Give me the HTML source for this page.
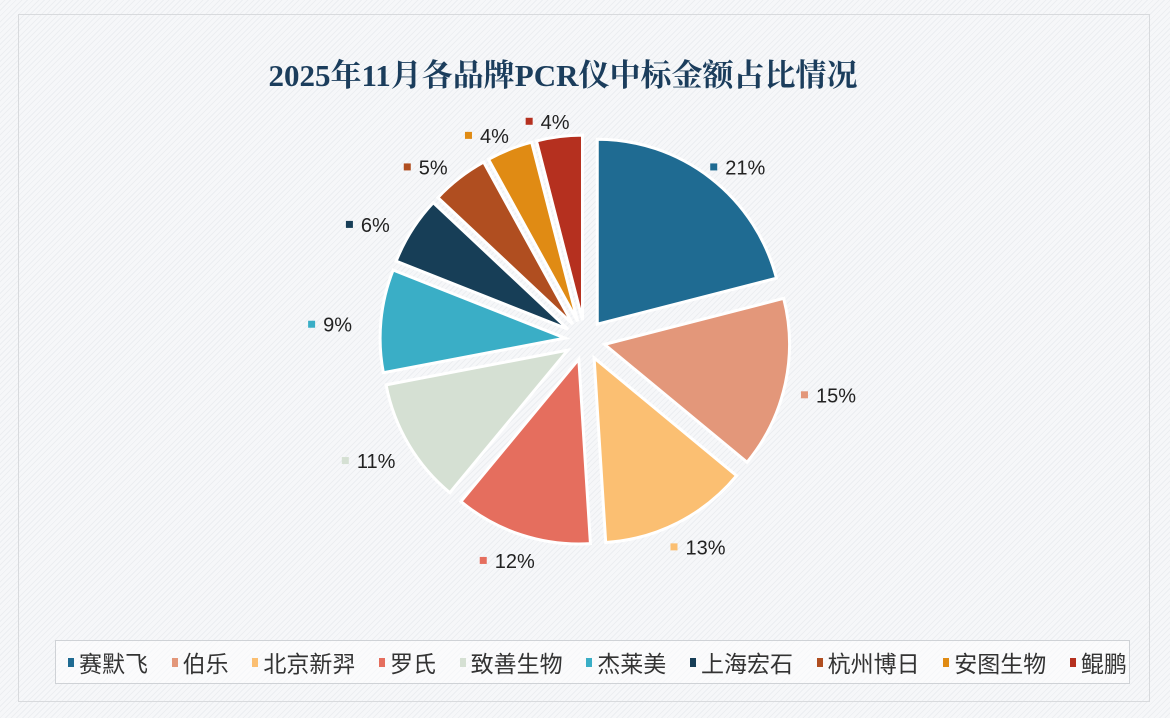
<!DOCTYPE html>
<html><head><meta charset="utf-8"><style>
html,body{margin:0;padding:0}
body{width:1170px;height:718px;position:relative;overflow:hidden;font-family:"Liberation Sans","Noto Sans CJK SC",sans-serif;
background:repeating-linear-gradient(135deg,#f6f7f9 0 3px,#eceef1 3px 4px);}
#frame{position:absolute;left:18px;top:14px;width:1132px;height:688px;border:1px solid #d8dadd;box-sizing:border-box}
#title{position:absolute;left:0;width:1126px;top:50px;text-align:center;font:bold 31px "Liberation Serif","Noto Serif CJK SC",serif;color:#1b3d5c}
#legend{position:absolute;left:55px;top:640px;width:1075px;height:44px;border:1px solid #cfd2d6;background:rgba(255,255,255,.55);box-sizing:border-box;display:flex;align-items:center;justify-content:space-between;padding:0 2px 0 12px;font-size:23px;color:#333}
.li{display:flex;align-items:center}
.sw{width:6px;height:9px;margin-right:5px}
svg{position:absolute;left:0;top:0}
</style></head><body>
<div id="frame"></div>
<div id="title">2025年11月各品牌PCR仪中标金额占比情况</div>
<svg id="chart" width="1170" height="718"></svg>
<div id="legend"></div>
<script>
const categories=["赛默飞","伯乐","北京新羿","罗氏","致善生物","杰莱美","上海宏石","杭州博日","安图生物","鲲鹏"];
const values=[21,15,13,12,11,9,6,5,4,4];
const labels=["21%","15%","13%","12%","11%","9%","6%","5%","4%","4%"];
const colors=["#1f6b92","#e3977a","#fbbf72","#e56e5e","#d5e0d3","#3aaec6","#173e57","#b04e20","#e08b14","#b5301f"];
const NS="http://www.w3.org/2000/svg";
const svg=document.getElementById('chart');
const cx=585,cy=340,R=185,EX=20,LRX=250,LRY=226;
const total=values.reduce((a,b)=>a+b,0);
let acc=0;
function pt(a,r){return [cx+r*Math.sin(a),cy-r*Math.cos(a)];}
values.forEach((v,i)=>{
  const a0=acc/total*2*Math.PI,a1=(acc+v)/total*2*Math.PI,am=(a0+a1)/2;acc+=v;
  const dx=EX*Math.sin(am),dy=-EX*Math.cos(am);
  const p0=pt(a0,R),p1=pt(a1,R);
  const p=document.createElementNS(NS,'path');
  p.setAttribute('d',`M${cx+dx},${cy+dy} L${p0[0]+dx},${p0[1]+dy} A${R},${R} 0 ${a1-a0>Math.PI?1:0} 1 ${p1[0]+dx},${p1[1]+dy} Z`);
  p.setAttribute('fill',colors[i]);p.setAttribute('stroke','#fff');p.setAttribute('stroke-width','3');
  
  
  svg.appendChild(p);
  const lp=[cx+LRX*Math.sin(am),cy-LRY*Math.cos(am)];
  const g=document.createElementNS(NS,'g');
  
  
  const r=document.createElementNS(NS,'rect');
  r.setAttribute('x',lp[0]-28);r.setAttribute('y',lp[1]+2);r.setAttribute('width',7);r.setAttribute('height',7);r.setAttribute('fill',colors[i]);
  g.appendChild(r);
  const t=document.createElementNS(NS,'text');
  t.setAttribute('x',lp[0]-13);t.setAttribute('y',lp[1]+13);t.setAttribute('font-size','20');t.setAttribute('font-family','Liberation Sans, sans-serif');t.setAttribute('fill','#222');
  t.textContent=labels[i];g.appendChild(t);
  svg.appendChild(g);
});
const lg=document.getElementById('legend');
categories.forEach((c,i)=>{
  const d=document.createElement('div');d.className='li';
  
  
  d.innerHTML=`<span class="sw" style="background:${colors[i]}"></span><span>${c}</span>`;
  lg.appendChild(d);
});
</script>
</body></html>
